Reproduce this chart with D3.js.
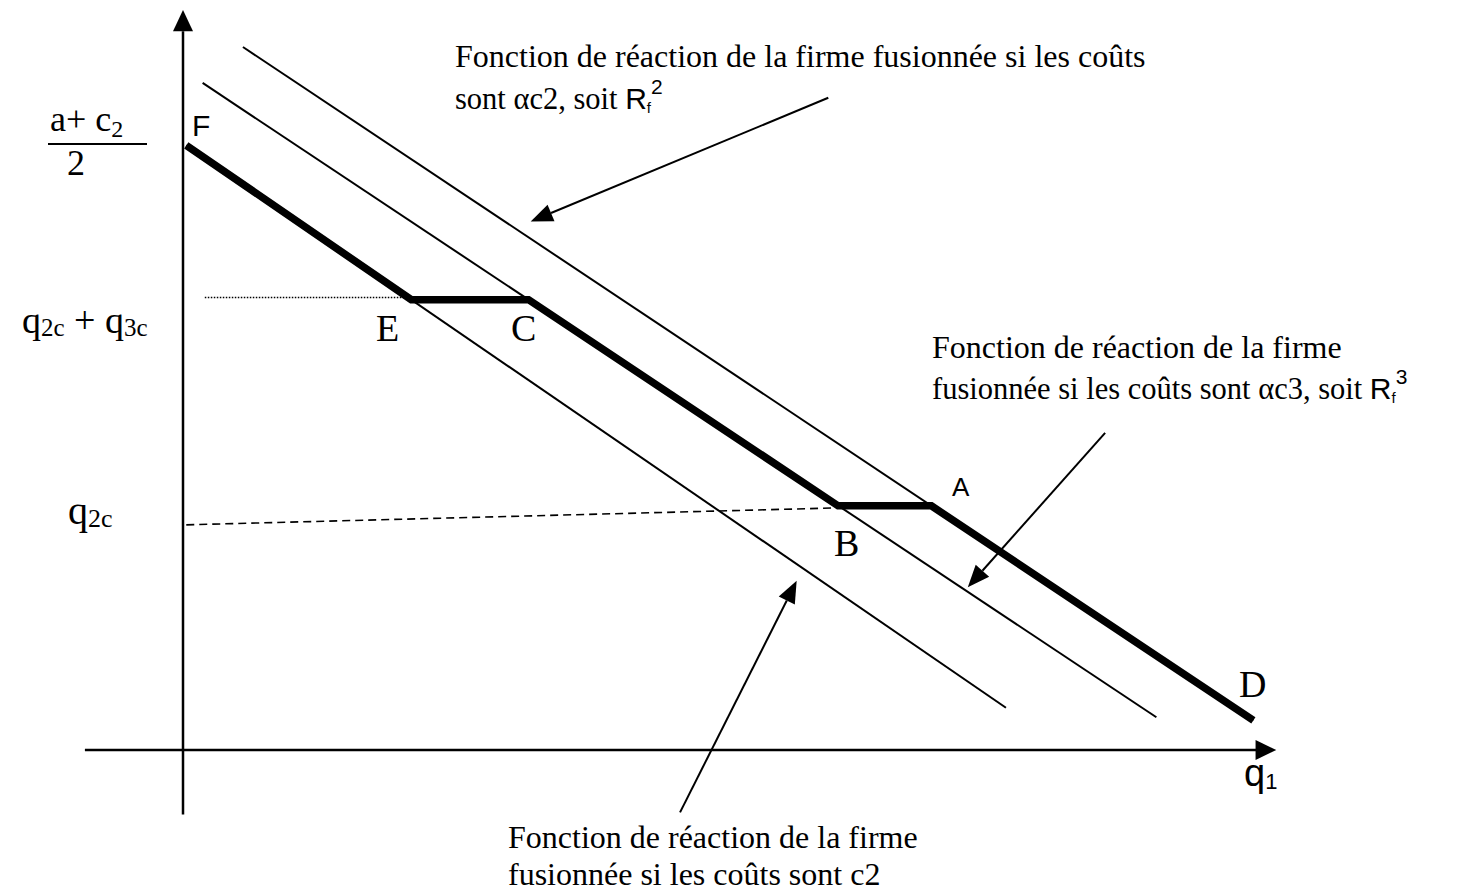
<!DOCTYPE html>
<html>
<head>
<meta charset="utf-8">
<script src="https://cdn.jsdelivr.net/npm/d3@7"></script>
<style>
  body { margin: 0; background: #fff; }
  svg { display: block; }
  .serif { font-family: "Liberation Serif", "Times New Roman", serif; fill: #000; }
  .sans { font-family: "Liberation Sans", Arial, sans-serif; fill: #000; }
</style>
</head>
<body>
<svg id="chart" width="1458" height="894"></svg>
<script>
// reaction function lines (q1, q2 units)
const lineAlphaC2 = [[5.5, 66.5], [98.2, 2.8]];
const lineAlphaC3 = [[1.8, 63.1], [89.3, 3.1]];
const lineC2 = [[0.3, 57.2], [75.5, 4.0]];

// thick kinked reaction function F-E-C-B-A-D
const kinkNames = ["F", "E", "C", "B", "A", "D"];
const kinkQ1 = [0.3, 20.94, 31.7, 60.1, 68.66, 98.2];
const kinkQ2 = [57.2, 42.6, 42.6, 23.1, 23.1, 2.8];

// guide lines
const dashedQ2c = [[0.3, 21.3], [60.0, 22.9]];
const dottedQ2q3 = [[2.0, 42.8], [20.94, 42.8]];

// annotation arrows [from, to]
const arrows = [
    [[59.2, 61.7], [31.9, 50.0]],
    [[84.6, 30.0], [72.0, 15.4]],
    [[45.6, -5.9], [56.3, 16.0]]
];

const svg = d3.select("#chart");

const x = d3.scaleLinear().domain([0, 100]).range([183, 1273]);
const y = d3.scaleLinear().domain([0, 70]).range([750, 10]);

const line = d3.line().x(d => x(d[0])).y(d => y(d[1]));

// axes
svg.append("line")
    .attr("x1", x(0)).attr("y1", y(-6.1))
    .attr("x2", x(0)).attr("y2", y(68))
    .attr("stroke", "#000").attr("stroke-width", 2.5);
svg.append("path")
    .attr("d", `M${x(0)},${y(70)} L${x(0) - 10},${y(68)} L${x(0) + 10},${y(68)} Z`)
    .attr("fill", "#000");

svg.append("line")
    .attr("x1", x(-9)).attr("y1", y(0))
    .attr("x2", x(98.5)).attr("y2", y(0))
    .attr("stroke", "#000").attr("stroke-width", 2.5);
svg.append("path")
    .attr("d", `M${x(100.3)},${y(0)} L${x(98.4)},${y(0) - 10} L${x(98.4)},${y(0) + 10} Z`)
    .attr("fill", "#000");

// thin reaction lines
[lineAlphaC2, lineAlphaC3, lineC2].forEach(l => {
    svg.append("path")
        .attr("d", line(l))
        .attr("fill", "none")
        .attr("stroke", "#000")
        .attr("stroke-width", 2);
});

// guide lines
svg.append("path")
    .attr("d", line(dashedQ2c))
    .attr("fill", "none").attr("stroke", "#000")
    .attr("stroke-width", 1.6).attr("stroke-dasharray", "8,5");
svg.append("path")
    .attr("d", line(dottedQ2q3))
    .attr("fill", "none").attr("stroke", "#000")
    .attr("stroke-width", 1.4).attr("stroke-dasharray", "1.5,1.5");

// thick kinked line
const kink = kinkQ1.map((q, i) => [q, kinkQ2[i]]);
svg.append("path")
    .attr("d", line(kink))
    .attr("fill", "none")
    .attr("stroke", "#000")
    .attr("stroke-width", 7.5)
    .attr("stroke-linejoin", "miter");

// annotation arrows
arrows.forEach(a => {
    const x1 = x(a[0][0]), y1 = y(a[0][1]), x2 = x(a[1][0]), y2 = y(a[1][1]);
    const ang = Math.atan2(y2 - y1, x2 - x1);
    const len = 22, half = 9;
    const bx = x2 - len * Math.cos(ang), by = y2 - len * Math.sin(ang);
    svg.append("line")
        .attr("x1", x1).attr("y1", y1).attr("x2", bx).attr("y2", by)
        .attr("stroke", "#000").attr("stroke-width", 2);
    svg.append("path")
        .attr("d", `M${x2},${y2} L${bx - half * Math.sin(ang)},${by + half * Math.cos(ang)} L${bx + half * Math.sin(ang)},${by - half * Math.cos(ang)} Z`)
        .attr("fill", "#000");
});

// y-axis labels
const t1 = svg.append("text").attr("class", "serif").attr("x", 50).attr("y", 131).attr("font-size", 36);
t1.append("tspan").text("a+ c");
t1.append("tspan").attr("font-size", 24).attr("dy", 6).text("2");
svg.append("line")
    .attr("x1", 48).attr("y1", 144).attr("x2", 147).attr("y2", 144)
    .attr("stroke", "#000").attr("stroke-width", 2);
svg.append("text").attr("class", "serif").attr("x", 67).attr("y", 175).attr("font-size", 36).text("2");

const t2 = svg.append("text").attr("class", "serif").attr("x", 22).attr("y", 333).attr("font-size", 38);
t2.append("tspan").text("q");
t2.append("tspan").attr("font-size", 25).attr("dy", 3).text("2c");
t2.append("tspan").attr("dy", -3).text(" + q");
t2.append("tspan").attr("font-size", 25).attr("dy", 3).text("3c");

const t3 = svg.append("text").attr("class", "serif").attr("x", 68).attr("y", 524).attr("font-size", 40);
t3.append("tspan").text("q");
t3.append("tspan").attr("font-size", 26).attr("dy", 3).text("2c");

// point labels
svg.append("text").attr("class", "sans").attr("x", 192).attr("y", 136).attr("font-size", 30).text("F");
svg.append("text").attr("class", "serif").attr("x", 376).attr("y", 341).attr("font-size", 38).text("E");
svg.append("text").attr("class", "serif").attr("x", 511).attr("y", 341).attr("font-size", 38).text("C");
svg.append("text").attr("class", "serif").attr("x", 834).attr("y", 556).attr("font-size", 38).text("B");
svg.append("text").attr("class", "sans").attr("x", 952).attr("y", 496).attr("font-size", 26).text("A");
svg.append("text").attr("class", "serif").attr("x", 1239).attr("y", 697).attr("font-size", 38).text("D");

const tq = svg.append("text").attr("class", "sans").attr("x", 1244).attr("y", 786).attr("font-size", 38);
tq.append("tspan").text("q");
tq.append("tspan").attr("font-size", 22).attr("dy", 3).text("1");

// annotations
function rLabel(x0, y0, before, sup) {
    const t = svg.append("text").attr("class", "serif").attr("x", x0).attr("y", y0).attr("font-size", 30.5);
    t.append("tspan").text(before);
    t.append("tspan").attr("class", "sans").attr("font-size", 30).text("R");
    t.append("tspan").attr("class", "sans").attr("font-size", 15).attr("dy", 4).text("f");
    t.append("tspan").attr("class", "sans").attr("font-size", 21).attr("dy", -19).text(sup);
}

svg.append("text").attr("class", "serif").attr("x", 455).attr("y", 67).attr("font-size", 32)
    .text("Fonction de réaction de la firme fusionnée si les coûts");
rLabel(455, 109, "sont αc2, soit ", "2");

svg.append("text").attr("class", "serif").attr("x", 932).attr("y", 358).attr("font-size", 32)
    .text("Fonction de réaction de la firme");
rLabel(932, 399, "fusionnée si les coûts sont αc3, soit ", "3");

svg.append("text").attr("class", "serif").attr("x", 508).attr("y", 848).attr("font-size", 32)
    .text("Fonction de réaction de la firme");
svg.append("text").attr("class", "serif").attr("x", 508).attr("y", 885).attr("font-size", 32)
    .text("fusionnée si les coûts sont c2");
</script>
</body>
</html>
